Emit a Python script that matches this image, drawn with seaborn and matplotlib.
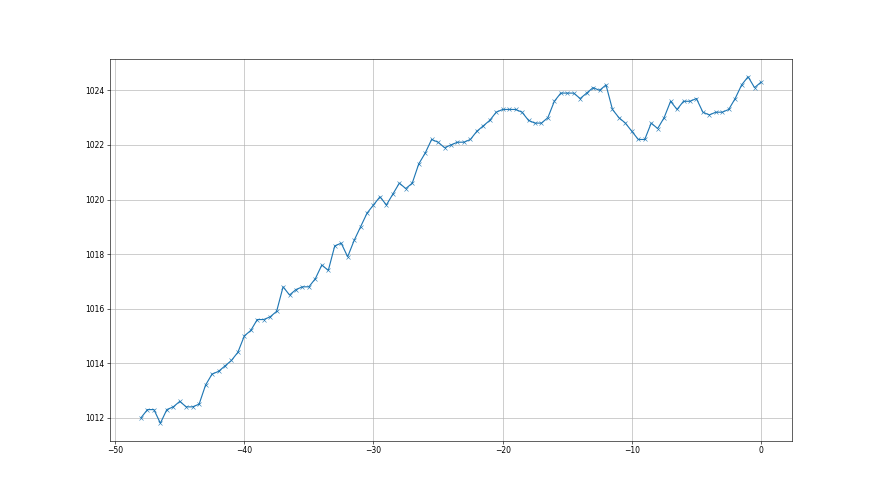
import matplotlib
matplotlib.use("Agg")
import matplotlib.pyplot as plt
import seaborn as sns
import pandas as pd

hours = [-48.0, -47.5, -47.0, -46.5, -46.0, -45.5, -45.0, -44.5, -44.0, -43.5,
         -43.0, -42.5, -42.0, -41.5, -41.0, -40.5, -40.0, -39.5, -39.0, -38.5,
         -38.0, -37.5, -37.0, -36.5, -36.0, -35.5, -35.0, -34.5, -34.0, -33.5,
         -33.0, -32.5, -32.0, -31.5, -31.0, -30.5, -30.0, -29.5, -29.0, -28.5,
         -28.0, -27.5, -27.0, -26.5, -26.0, -25.5, -25.0, -24.5, -24.0, -23.5,
         -23.0, -22.5, -22.0, -21.5, -21.0, -20.5, -20.0, -19.5, -19.0, -18.5,
         -18.0, -17.5, -17.0, -16.5, -16.0, -15.5, -15.0, -14.5, -14.0, -13.5,
         -13.0, -12.5, -12.0, -11.5, -11.0, -10.5, -10.0, -9.5, -9.0, -8.5,
         -8.0, -7.5, -7.0, -6.5, -6.0, -5.5, -5.0, -4.5, -4.0, -3.5,
         -3.0, -2.5, -2.0, -1.5, -1.0, -0.5, 0.0]

pressure = [1012.0, 1012.3, 1012.3, 1011.8, 1012.3, 1012.4, 1012.6, 1012.4, 1012.4, 1012.5,
            1013.2, 1013.6, 1013.7, 1013.9, 1014.1, 1014.4, 1015.0, 1015.2, 1015.6, 1015.6,
            1015.7, 1015.9, 1016.8, 1016.5, 1016.7, 1016.8, 1016.8, 1017.1, 1017.6, 1017.4,
            1018.3, 1018.4, 1017.9, 1018.5, 1019.0, 1019.5, 1019.8, 1020.1, 1019.8, 1020.2,
            1020.6, 1020.4, 1020.6, 1021.3, 1021.7, 1022.2, 1022.1, 1021.9, 1022.0, 1022.1,
            1022.1, 1022.2, 1022.5, 1022.7, 1022.9, 1023.2, 1023.3, 1023.3, 1023.3, 1023.2,
            1022.9, 1022.8, 1022.8, 1023.0, 1023.6, 1023.9, 1023.9, 1023.9, 1023.7, 1023.9,
            1024.1, 1024.0, 1024.2, 1023.3, 1023.0, 1022.8, 1022.5, 1022.2, 1022.2, 1022.8,
            1022.6, 1023.0, 1023.6, 1023.3, 1023.6, 1023.6, 1023.7, 1023.2, 1023.1, 1023.2,
            1023.2, 1023.3, 1023.7, 1024.2, 1024.5, 1024.1, 1024.3]

df = pd.DataFrame({"hours": hours, "pressure": pressure})

fig, ax = plt.subplots(figsize=(16, 9), dpi=55)
sns.lineplot(data=df, x="hours", y="pressure", marker="x", color="#1f77b4",
             markeredgecolor="#1f77b4", markersize=6, linewidth=1.5, ax=ax)
ax.grid(True, color="#b0b0b0", linewidth=0.8)
ax.set_axisbelow(True)
ax.set_xlabel("")
ax.set_ylabel("")
ax.set_yticks([1012, 1014, 1016, 1018, 1020, 1022, 1024])
ax.set_xticks([-50, -40, -30, -20, -10, 0])
fig.savefig("out.png", dpi=55)
